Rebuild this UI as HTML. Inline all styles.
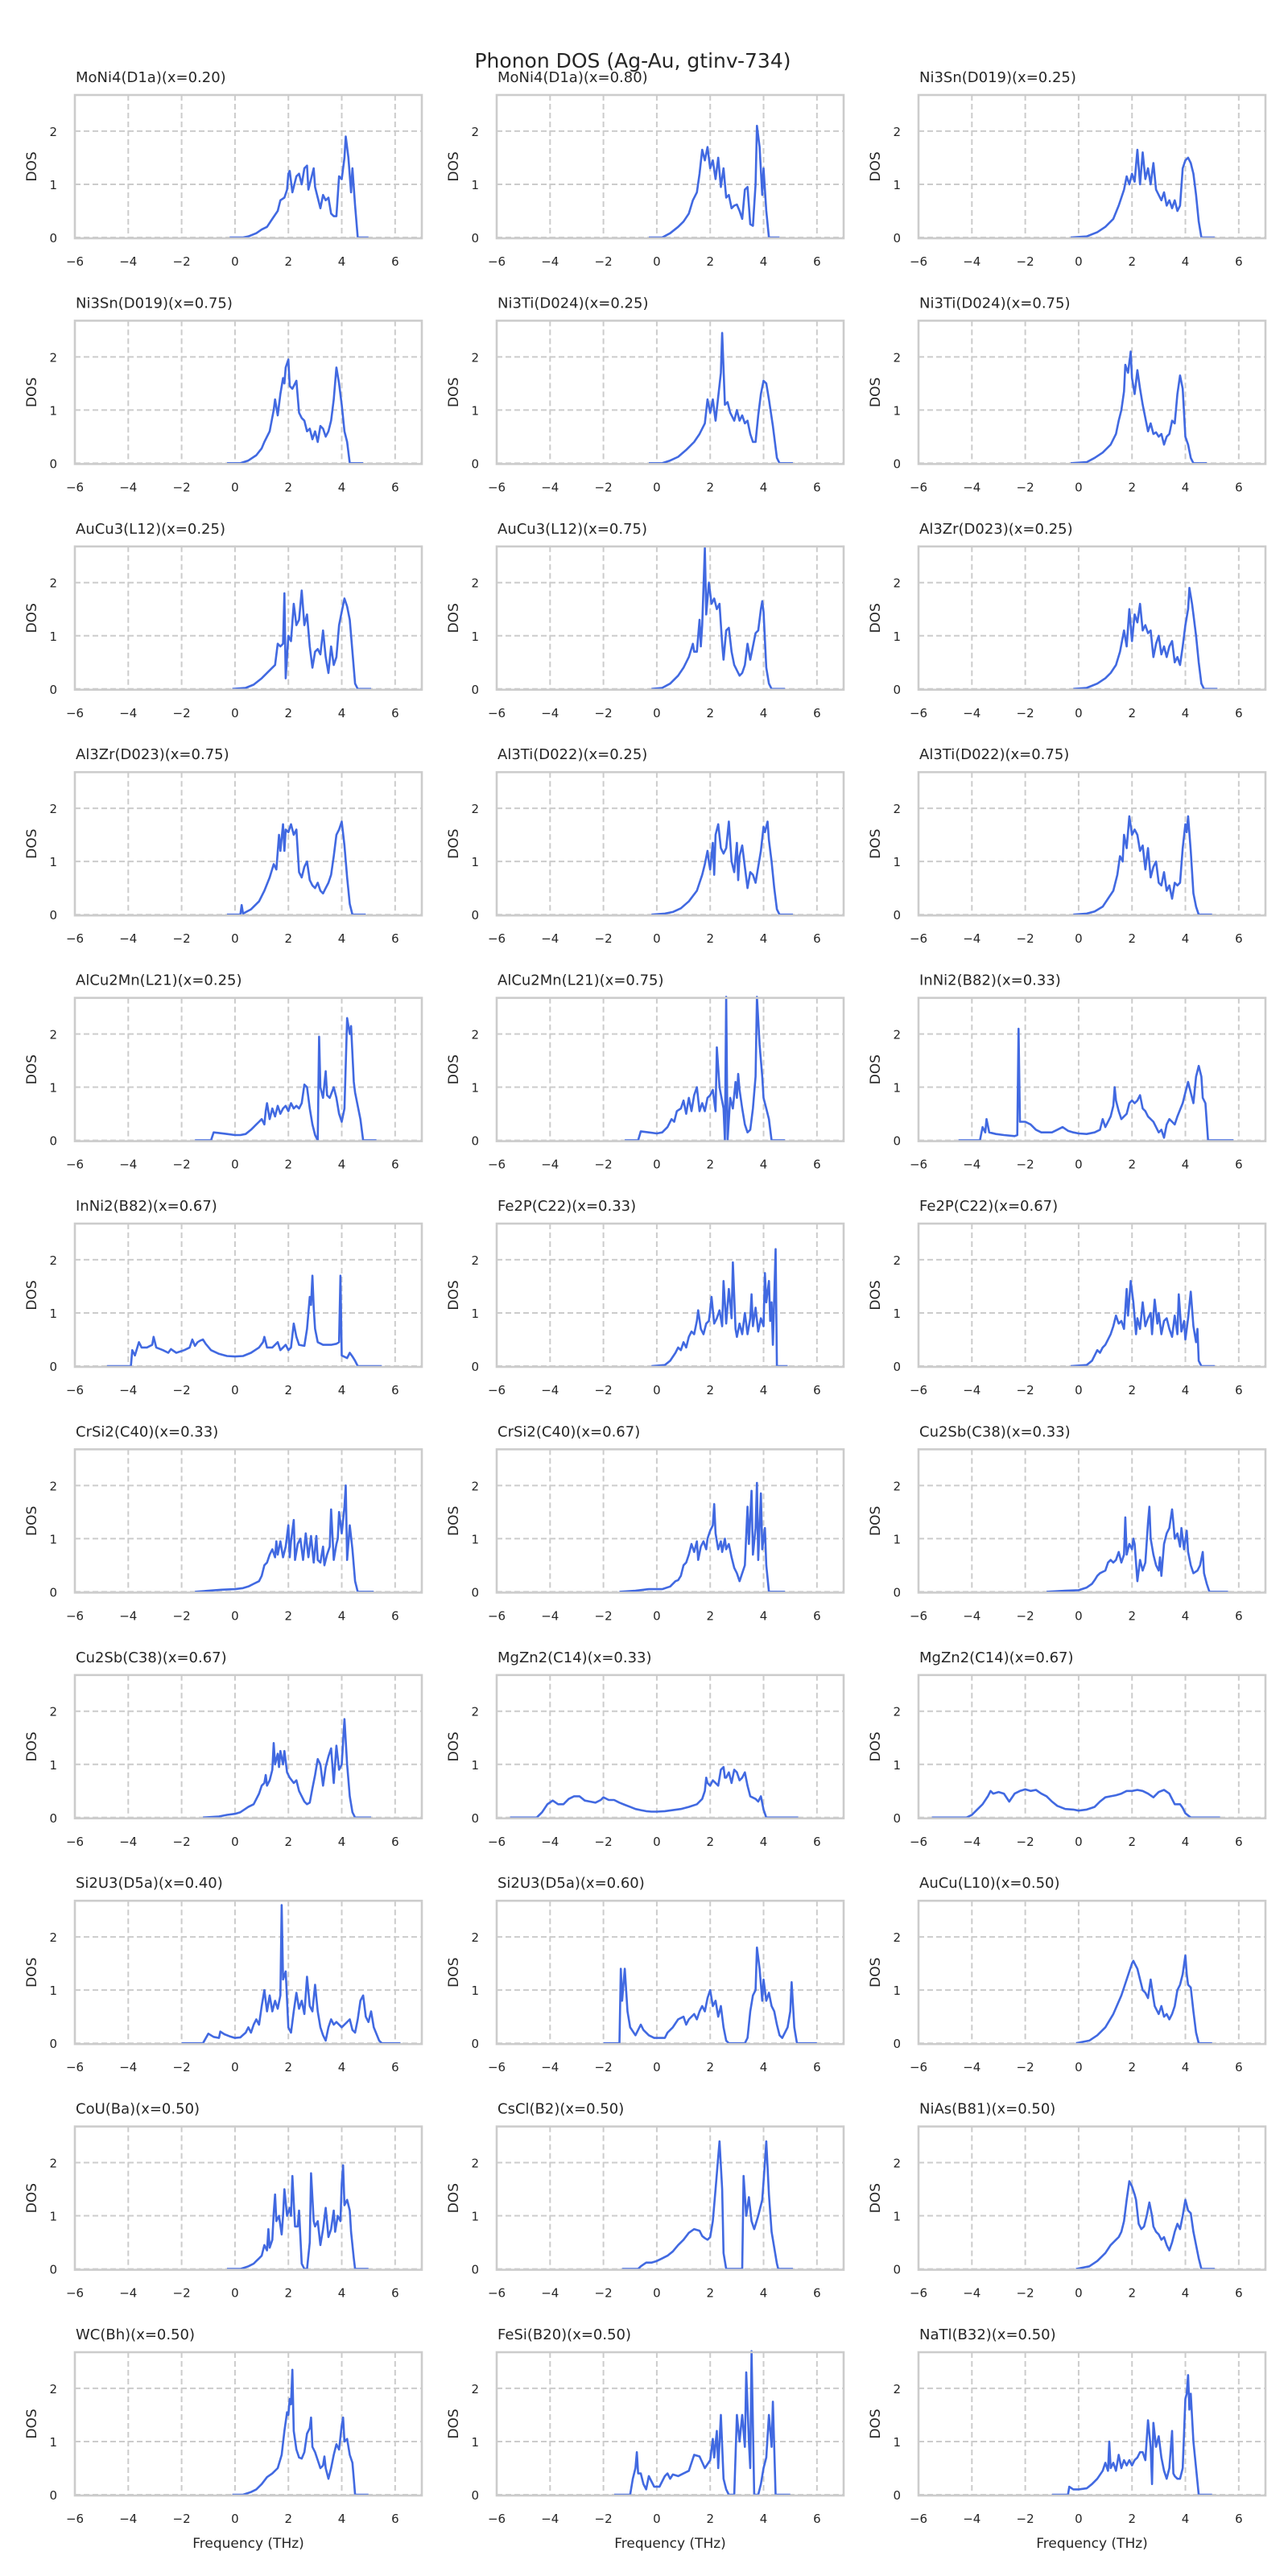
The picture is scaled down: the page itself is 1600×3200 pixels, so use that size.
<!DOCTYPE html>
<html><head><meta charset="utf-8">
<style>
html,body{margin:0;padding:0;background:#fff;}
svg{display:block;font-family:"DejaVu Sans","Liberation Sans",sans-serif;}
</style></head>
<body>
<svg id="fig" width="1600" height="3200" viewBox="0 0 1600 3200" xmlns="http://www.w3.org/2000/svg">
<text x="786" y="84" text-anchor="middle" font-size="25" fill="#262626">Phonon DOS (Ag-Au, gtinv-734)</text>
</svg>
<script>
const titles = ["MoNi4(D1a)(x=0.20)","MoNi4(D1a)(x=0.80)","Ni3Sn(D019)(x=0.25)","Ni3Sn(D019)(x=0.75)","Ni3Ti(D024)(x=0.25)","Ni3Ti(D024)(x=0.75)","AuCu3(L12)(x=0.25)","AuCu3(L12)(x=0.75)","Al3Zr(D023)(x=0.25)","Al3Zr(D023)(x=0.75)","Al3Ti(D022)(x=0.25)","Al3Ti(D022)(x=0.75)","AlCu2Mn(L21)(x=0.25)","AlCu2Mn(L21)(x=0.75)","InNi2(B82)(x=0.33)","InNi2(B82)(x=0.67)","Fe2P(C22)(x=0.33)","Fe2P(C22)(x=0.67)","CrSi2(C40)(x=0.33)","CrSi2(C40)(x=0.67)","Cu2Sb(C38)(x=0.33)","Cu2Sb(C38)(x=0.67)","MgZn2(C14)(x=0.33)","MgZn2(C14)(x=0.67)","Si2U3(D5a)(x=0.40)","Si2U3(D5a)(x=0.60)","AuCu(L10)(x=0.50)","CoU(Ba)(x=0.50)","CsCl(B2)(x=0.50)","NiAs(B81)(x=0.50)","WC(Bh)(x=0.50)","FeSi(B20)(x=0.50)","NaTl(B32)(x=0.50)"];
const xTicks = [-6,-4,-2,0,2,4,6];
const xTickLabels = ["\u22126","\u22124","\u22122","0","2","4","6"];
const yTicks = [0,1,2];
const yTickLabels = ["0","1","2"];

const P1=[[-0.2,0],[0.3,0],[0.5,0.02],[0.8,0.08],[1.0,0.15],[1.2,0.2],[1.4,0.35],[1.6,0.5],[1.7,0.7],[1.85,0.75],[1.95,0.9],[2.0,1.2],[2.05,1.25],[2.15,0.85],[2.3,1.15],[2.4,1.2],[2.5,1.0],[2.6,1.3],[2.7,1.35],[2.75,0.9],[2.85,1.1],[2.95,1.3],[3.0,0.95],[3.1,0.75],[3.2,0.55],[3.3,0.8],[3.4,0.7],[3.5,0.75],[3.6,0.45],[3.7,0.4],[3.8,0.4],[3.9,1.15],[4.0,1.1],[4.1,1.5],[4.15,1.9],[4.25,1.5],[4.35,0.85],[4.4,1.3],[4.5,0.6],[4.6,0],[5.0,0]];
const P2=[[-0.3,0],[0.2,0],[0.5,0.08],[0.8,0.2],[1.0,0.3],[1.2,0.45],[1.35,0.7],[1.5,0.85],[1.6,1.2],[1.7,1.65],[1.8,1.45],[1.9,1.7],[2.0,1.3],[2.1,1.45],[2.2,1.1],[2.3,1.5],[2.4,0.95],[2.5,1.3],[2.6,0.75],[2.7,0.8],[2.8,0.55],[2.9,0.6],[3.0,0.62],[3.1,0.5],[3.2,0.35],[3.3,0.9],[3.4,0.95],[3.5,0.25],[3.6,0.22],[3.7,1.0],[3.75,2.1],[3.85,1.7],[3.95,0.8],[4.0,1.3],[4.1,0.5],[4.2,0],[4.6,0]];
const P3=[[-0.3,0],[0.3,0.02],[0.7,0.1],[1.0,0.2],[1.3,0.35],[1.5,0.6],[1.7,0.9],[1.8,1.15],[1.9,1.0],[2.0,1.2],[2.1,1.05],[2.2,1.65],[2.3,1.0],[2.4,1.6],[2.5,1.1],[2.6,1.3],[2.7,1.0],[2.8,1.4],[2.9,0.9],[3.0,0.8],[3.1,0.7],[3.2,0.85],[3.3,0.6],[3.4,0.7],[3.5,0.55],[3.6,0.7],[3.7,0.5],[3.8,0.6],[3.9,1.3],[4.0,1.45],[4.1,1.5],[4.2,1.4],[4.3,1.2],[4.4,0.8],[4.5,0.3],[4.6,0],[5.1,0]];
const P4=[[-0.3,0],[0.2,0],[0.5,0.05],[0.8,0.15],[1.0,0.28],[1.1,0.4],[1.3,0.6],[1.45,1.0],[1.5,1.2],[1.6,0.9],[1.7,1.3],[1.8,1.6],[1.85,1.5],[1.9,1.8],[2.0,1.95],[2.05,1.45],[2.15,1.4],[2.3,1.55],[2.4,0.95],[2.5,0.85],[2.6,0.8],[2.7,0.6],[2.8,0.65],[2.9,0.45],[3.0,0.6],[3.1,0.4],[3.2,0.7],[3.3,0.65],[3.4,0.5],[3.5,0.6],[3.6,0.8],[3.7,1.2],[3.8,1.8],[3.9,1.5],[4.0,1.1],[4.1,0.6],[4.2,0.4],[4.3,0],[4.8,0]];
const P5=[[-0.3,0],[0.2,0],[0.5,0.05],[0.8,0.12],[1.1,0.25],[1.4,0.4],[1.6,0.55],[1.8,0.75],[1.9,1.2],[2.0,0.95],[2.1,1.2],[2.2,0.8],[2.3,1.25],[2.4,1.7],[2.45,2.45],[2.55,1.1],[2.65,1.15],[2.75,0.95],[2.9,0.8],[3.0,1.0],[3.1,0.8],[3.2,0.9],[3.3,0.75],[3.4,0.8],[3.5,0.55],[3.6,0.4],[3.7,0.4],[3.8,0.9],[3.9,1.3],[4.0,1.55],[4.1,1.5],[4.2,1.2],[4.35,0.7],[4.5,0.1],[4.6,0],[5.1,0]];
const P6=[[-0.3,0],[0.3,0.02],[0.6,0.1],[0.9,0.2],[1.2,0.35],[1.4,0.55],[1.5,0.8],[1.6,1.0],[1.7,1.35],[1.75,1.85],[1.85,1.7],[1.95,2.1],[2.0,1.6],[2.1,1.3],[2.2,1.75],[2.3,1.4],[2.4,1.1],[2.5,0.85],[2.6,0.6],[2.7,0.75],[2.8,0.55],[2.9,0.58],[3.0,0.5],[3.1,0.55],[3.2,0.35],[3.3,0.5],[3.4,0.55],[3.5,0.8],[3.6,0.75],[3.7,1.3],[3.8,1.65],[3.9,1.4],[4.0,0.5],[4.1,0.35],[4.2,0.1],[4.3,0],[4.8,0]];
const P7=[[-0.1,0],[0.4,0.02],[0.7,0.08],[1.0,0.2],[1.3,0.35],[1.5,0.45],[1.6,0.85],[1.7,0.8],[1.8,0.85],[1.85,1.8],[1.9,0.2],[2.0,1.0],[2.1,0.9],[2.2,1.6],[2.3,1.2],[2.4,1.3],[2.5,1.85],[2.6,1.2],[2.7,1.4],[2.8,0.8],[2.9,0.4],[3.0,0.7],[3.1,0.75],[3.2,0.65],[3.3,1.1],[3.4,0.6],[3.5,0.3],[3.6,0.8],[3.7,0.45],[3.8,0.6],[3.9,1.2],[4.0,1.45],[4.1,1.7],[4.2,1.55],[4.3,1.3],[4.4,0.7],[4.5,0.1],[4.6,0],[5.1,0]];
const P8=[[-0.2,0],[0.2,0.02],[0.5,0.1],[0.8,0.25],[1.0,0.4],[1.2,0.6],[1.35,0.85],[1.4,0.7],[1.5,0.7],[1.6,1.3],[1.65,0.8],[1.7,1.2],[1.8,2.65],[1.85,1.4],[1.95,2.0],[2.05,1.6],[2.15,1.7],[2.25,1.5],[2.35,1.6],[2.45,0.85],[2.5,0.55],[2.6,1.1],[2.7,1.15],[2.8,0.7],[2.9,0.45],[3.0,0.35],[3.1,0.25],[3.2,0.3],[3.3,0.45],[3.4,0.85],[3.5,0.55],[3.6,0.8],[3.7,1.05],[3.8,1.1],[3.9,1.5],[3.95,1.65],[4.0,1.45],[4.1,0.4],[4.2,0.1],[4.3,0],[4.8,0]];
const P9=[[-0.2,0],[0.3,0.02],[0.7,0.1],[1.0,0.2],[1.2,0.3],[1.4,0.45],[1.55,0.7],[1.7,1.1],[1.8,0.8],[1.9,1.5],[2.0,0.9],[2.1,1.4],[2.2,1.25],[2.3,1.6],[2.4,1.1],[2.5,1.2],[2.6,1.05],[2.7,1.1],[2.8,0.6],[2.9,0.85],[3.0,1.0],[3.1,0.65],[3.2,0.8],[3.3,0.6],[3.4,0.8],[3.5,0.9],[3.6,0.5],[3.7,0.6],[3.8,0.45],[3.9,0.8],[4.0,1.2],[4.1,1.5],[4.15,1.9],[4.25,1.6],[4.3,1.4],[4.4,1.0],[4.5,0.5],[4.6,0.1],[4.7,0],[5.2,0]];
const P10=[[-0.3,0],[0.2,0],[0.25,0.18],[0.3,0.02],[0.6,0.1],[0.9,0.25],[1.1,0.45],[1.3,0.7],[1.45,0.95],[1.55,0.85],[1.65,1.5],[1.7,1.2],[1.8,1.7],[1.85,1.2],[1.9,1.6],[2.0,1.55],[2.1,1.7],[2.2,1.5],[2.3,1.6],[2.4,0.8],[2.5,0.7],[2.6,0.9],[2.7,1.0],[2.8,0.65],[2.9,0.55],[3.0,0.5],[3.1,0.6],[3.2,0.45],[3.3,0.4],[3.4,0.5],[3.5,0.6],[3.6,0.75],[3.7,1.1],[3.8,1.5],[3.9,1.6],[4.0,1.75],[4.1,1.3],[4.2,0.7],[4.3,0.2],[4.4,0],[4.9,0]];
const P11=[[-0.2,0],[0.3,0.02],[0.6,0.05],[0.9,0.12],[1.2,0.25],[1.5,0.45],[1.7,0.75],[1.8,0.95],[1.9,1.2],[1.95,1.0],[2.0,0.85],[2.1,1.35],[2.15,0.75],[2.2,1.5],[2.3,1.7],[2.4,1.25],[2.5,1.15],[2.6,1.25],[2.7,1.75],[2.8,1.0],[2.9,0.8],[3.0,1.35],[3.05,0.65],[3.1,1.1],[3.2,1.3],[3.3,0.9],[3.4,0.5],[3.5,0.8],[3.6,0.75],[3.7,0.6],[3.8,0.9],[3.9,1.2],[4.0,1.65],[4.05,1.55],[4.15,1.75],[4.2,1.4],[4.3,1.0],[4.4,0.5],[4.5,0.1],[4.6,0],[5.1,0]];
const P12=[[-0.2,0],[0.3,0.02],[0.6,0.06],[0.9,0.15],[1.1,0.3],[1.3,0.45],[1.45,0.75],[1.55,1.1],[1.65,1.0],[1.7,1.5],[1.8,1.25],[1.9,1.85],[2.0,1.5],[2.1,1.6],[2.2,1.5],[2.3,1.2],[2.4,1.3],[2.5,0.85],[2.6,1.25],[2.7,0.7],[2.8,0.9],[2.9,1.0],[3.0,0.6],[3.1,0.55],[3.2,0.8],[3.3,0.45],[3.4,0.55],[3.5,0.3],[3.6,0.6],[3.7,0.55],[3.8,0.6],[3.9,1.25],[4.0,1.7],[4.05,1.55],[4.1,1.85],[4.2,1.2],[4.3,0.4],[4.4,0.15],[4.5,0],[5.0,0]];
const P13=[[-1.5,0],[-0.9,0],[-0.8,0.15],[-0.6,0.14],[-0.3,0.12],[0,0.1],[0.2,0.1],[0.4,0.12],[0.6,0.2],[0.8,0.3],[0.9,0.35],[1.0,0.4],[1.1,0.3],[1.15,0.55],[1.2,0.7],[1.3,0.4],[1.4,0.6],[1.5,0.45],[1.6,0.65],[1.7,0.5],[1.8,0.6],[1.9,0.65],[2.0,0.55],[2.1,0.7],[2.2,0.6],[2.3,0.65],[2.4,0.6],[2.5,0.7],[2.6,1.05],[2.7,1.0],[2.8,0.6],[2.9,0.3],[3.0,0.1],[3.1,0],[3.15,1.95],[3.2,1.0],[3.3,0.8],[3.4,1.3],[3.45,0.85],[3.55,0.8],[3.7,1.0],[3.8,0.8],[3.9,0.5],[4.0,0.35],[4.1,0.6],[4.2,2.3],[4.3,2.0],[4.35,2.15],[4.45,1.1],[4.5,0.9],[4.7,0.4],[4.8,0],[5.3,0]];
const P14=[[-1.2,0],[-0.7,0],[-0.6,0.17],[-0.3,0.15],[0,0.13],[0.2,0.15],[0.4,0.25],[0.55,0.4],[0.65,0.35],[0.75,0.55],[0.9,0.6],[1.0,0.75],[1.1,0.5],[1.2,0.8],[1.3,0.55],[1.4,0.85],[1.5,1.0],[1.6,0.55],[1.7,0.7],[1.8,0.55],[1.9,0.8],[2.0,0.85],[2.1,0.95],[2.2,0.55],[2.25,1.75],[2.35,1.0],[2.5,0.6],[2.55,0],[2.6,2.7],[2.65,0],[2.75,0.8],[2.85,0.6],[2.95,1.1],[3.0,0.8],[3.05,1.25],[3.1,0.95],[3.2,0.6],[3.3,0.3],[3.4,0.15],[3.5,0.2],[3.6,0.6],[3.7,1.2],[3.75,2.7],[3.85,1.8],[3.95,1.2],[4.0,0.8],[4.1,0.6],[4.2,0.4],[4.3,0],[4.8,0]];
const P15=[[-4.5,0],[-3.7,0],[-3.6,0.25],[-3.5,0.15],[-3.45,0.4],[-3.35,0.15],[-3.1,0.12],[-2.8,0.1],[-2.4,0.08],[-2.3,0.1],[-2.25,2.1],[-2.2,0.35],[-2.0,0.35],[-1.8,0.3],[-1.6,0.2],[-1.4,0.15],[-1.0,0.15],[-0.8,0.2],[-0.6,0.25],[-0.4,0.18],[-0.2,0.15],[0,0.13],[0.3,0.12],[0.6,0.15],[0.8,0.2],[0.9,0.4],[1.0,0.25],[1.2,0.45],[1.3,0.65],[1.35,1.0],[1.4,0.75],[1.5,0.55],[1.6,0.4],[1.8,0.5],[1.9,0.7],[2.0,0.75],[2.1,0.7],[2.2,0.75],[2.3,0.85],[2.4,0.6],[2.5,0.55],[2.6,0.45],[2.8,0.35],[3.0,0.15],[3.1,0.2],[3.2,0.05],[3.3,0.3],[3.4,0.4],[3.5,0.35],[3.6,0.3],[3.7,0.45],[3.9,0.7],[4.0,0.9],[4.1,1.1],[4.2,0.9],[4.3,0.7],[4.4,1.2],[4.5,1.4],[4.6,1.2],[4.65,0.8],[4.75,0.7],[4.85,0],[5.8,0]];
const P16=[[-4.8,0],[-3.9,0],[-3.85,0.3],[-3.75,0.2],[-3.6,0.45],[-3.5,0.35],[-3.3,0.35],[-3.1,0.4],[-3.05,0.55],[-2.95,0.35],[-2.7,0.3],[-2.5,0.25],[-2.4,0.32],[-2.2,0.25],[-1.9,0.3],[-1.7,0.35],[-1.6,0.5],[-1.5,0.38],[-1.4,0.45],[-1.3,0.48],[-1.2,0.5],[-1.1,0.42],[-0.9,0.3],[-0.6,0.23],[-0.3,0.19],[0,0.18],[0.3,0.19],[0.6,0.25],[0.9,0.35],[1.05,0.45],[1.1,0.55],[1.2,0.35],[1.4,0.35],[1.6,0.45],[1.7,0.3],[1.8,0.35],[1.9,0.4],[2.0,0.3],[2.1,0.35],[2.2,0.8],[2.3,0.55],[2.4,0.4],[2.6,0.38],[2.7,0.7],[2.8,1.3],[2.85,1.15],[2.9,1.7],[2.95,1.1],[3.0,0.7],[3.1,0.45],[3.3,0.4],[3.6,0.4],[3.8,0.42],[3.9,0.45],[3.95,1.7],[4.0,0.2],[4.2,0.15],[4.3,0.25],[4.4,0.18],[4.5,0.1],[4.6,0],[5.5,0]];
const P17=[[-0.2,0],[0.3,0.02],[0.5,0.1],[0.7,0.25],[0.8,0.35],[0.9,0.3],[1.0,0.45],[1.1,0.35],[1.2,0.55],[1.3,0.65],[1.4,0.6],[1.5,0.85],[1.55,1.05],[1.65,0.7],[1.75,0.6],[1.85,0.8],[1.95,0.85],[2.0,1.05],[2.05,1.3],[2.15,0.8],[2.25,0.9],[2.35,1.05],[2.45,0.75],[2.5,1.6],[2.6,0.8],[2.7,1.45],[2.8,0.9],[2.85,1.95],[2.95,0.7],[3.0,0.55],[3.1,0.8],[3.2,0.6],[3.3,1.0],[3.4,0.6],[3.5,0.9],[3.55,1.35],[3.6,0.75],[3.7,1.1],[3.8,0.65],[3.9,0.9],[4.0,0.75],[4.05,1.75],[4.1,1.2],[4.2,1.6],[4.25,0.85],[4.3,1.2],[4.35,0.4],[4.45,2.2],[4.5,0],[4.9,0]];
const P18=[[-0.3,0],[0.3,0.02],[0.5,0.1],[0.7,0.3],[0.8,0.25],[0.9,0.35],[1.0,0.4],[1.2,0.6],[1.3,0.75],[1.4,0.95],[1.5,0.8],[1.6,0.85],[1.7,0.7],[1.8,1.45],[1.85,0.95],[1.95,1.6],[2.05,1.2],[2.15,0.6],[2.2,0.9],[2.3,0.7],[2.4,1.2],[2.5,0.75],[2.6,0.9],[2.7,1.0],[2.75,0.6],[2.85,1.25],[2.95,0.8],[3.0,1.0],[3.1,0.6],[3.2,0.85],[3.3,0.9],[3.4,0.7],[3.5,0.55],[3.6,0.95],[3.7,0.6],[3.75,1.35],[3.85,0.65],[3.95,0.85],[4.0,0.5],[4.1,0.9],[4.2,1.4],[4.3,0.75],[4.4,0.45],[4.45,0.7],[4.5,0.1],[4.6,0],[5.1,0]];
const P19=[[-1.5,0],[-1.0,0.02],[-0.5,0.04],[0,0.05],[0.3,0.07],[0.5,0.1],[0.7,0.15],[0.9,0.2],[1.0,0.3],[1.1,0.5],[1.2,0.55],[1.3,0.7],[1.4,0.8],[1.5,0.65],[1.55,0.95],[1.6,0.7],[1.7,0.95],[1.8,0.65],[1.9,0.85],[2.0,1.25],[2.05,0.65],[2.1,0.95],[2.2,1.35],[2.25,0.6],[2.35,0.9],[2.45,1.0],[2.55,0.6],[2.65,1.1],[2.75,0.65],[2.85,1.05],[2.95,0.55],[3.05,1.05],[3.1,0.6],[3.2,0.55],[3.3,0.85],[3.35,0.5],[3.45,0.7],[3.55,0.85],[3.6,1.55],[3.7,0.6],[3.8,0.9],[3.85,1.0],[3.9,1.5],[4.0,1.1],[4.1,1.6],[4.15,2.0],[4.2,0.6],[4.3,1.25],[4.4,0.8],[4.5,0.2],[4.6,0],[5.2,0]];
const P20=[[-1.4,0],[-0.8,0.02],[-0.3,0.05],[0.2,0.05],[0.5,0.1],[0.7,0.2],[0.8,0.22],[0.9,0.3],[1.0,0.5],[1.1,0.55],[1.2,0.7],[1.3,0.9],[1.4,0.75],[1.5,0.95],[1.55,0.6],[1.65,0.85],[1.75,0.95],[1.85,0.8],[1.9,1.0],[2.0,1.15],[2.1,1.25],[2.15,1.65],[2.2,1.1],[2.3,0.8],[2.4,0.95],[2.45,0.75],[2.55,1.0],[2.6,0.8],[2.7,0.9],[2.8,0.65],[2.9,0.45],[3.0,0.35],[3.1,0.2],[3.2,0.35],[3.3,0.5],[3.4,1.6],[3.45,0.9],[3.55,1.9],[3.6,0.7],[3.7,1.2],[3.75,2.05],[3.8,0.6],[3.9,1.85],[3.95,0.8],[4.05,1.2],[4.1,0.5],[4.2,0],[4.8,0]];
const P21=[[-1.2,0],[-0.5,0.02],[0,0.03],[0.3,0.08],[0.5,0.15],[0.6,0.22],[0.7,0.3],[0.8,0.35],[1.0,0.4],[1.1,0.55],[1.2,0.6],[1.3,0.55],[1.4,0.6],[1.5,0.75],[1.6,0.55],[1.7,0.7],[1.75,1.4],[1.8,0.7],[1.9,0.9],[2.0,0.8],[2.05,1.0],[2.1,0.9],[2.2,0.2],[2.3,0.6],[2.4,0.4],[2.5,0.55],[2.6,1.3],[2.65,1.6],[2.7,1.0],[2.8,0.7],[2.9,0.5],[3.0,0.4],[3.05,0.65],[3.1,0.3],[3.2,0.9],[3.3,1.1],[3.4,1.2],[3.5,1.55],[3.55,1.3],[3.6,1.0],[3.7,1.1],[3.8,0.85],[3.85,1.2],[3.95,0.8],[4.05,1.15],[4.1,0.75],[4.2,0.5],[4.3,0.35],[4.45,0.4],[4.55,0.5],[4.65,0.75],[4.7,0.35],[4.8,0.15],[4.9,0],[5.6,0]];
const P22=[[-1.2,0],[-0.6,0.02],[-0.3,0.05],[0,0.07],[0.2,0.1],[0.5,0.2],[0.7,0.25],[0.9,0.45],[1.0,0.6],[1.1,0.65],[1.15,0.8],[1.2,0.6],[1.3,0.7],[1.4,0.9],[1.45,1.4],[1.5,1.0],[1.6,1.2],[1.65,0.95],[1.7,1.25],[1.8,1.0],[1.85,1.25],[1.95,0.85],[2.05,0.75],[2.2,0.65],[2.3,0.7],[2.4,0.5],[2.6,0.3],[2.7,0.25],[2.8,0.28],[2.9,0.55],[3.0,0.8],[3.1,1.1],[3.2,1.0],[3.3,0.6],[3.4,0.95],[3.5,1.15],[3.6,1.3],[3.7,0.65],[3.8,1.35],[3.9,0.9],[4.0,1.0],[4.1,1.85],[4.2,1.0],[4.3,0.4],[4.4,0.1],[4.5,0],[5.1,0]];
const P23=[[-5.5,0],[-4.5,0],[-4.3,0.1],[-4.1,0.25],[-3.9,0.32],[-3.7,0.25],[-3.5,0.25],[-3.3,0.35],[-3.1,0.4],[-2.9,0.4],[-2.7,0.32],[-2.5,0.3],[-2.3,0.28],[-2.1,0.33],[-2.0,0.38],[-1.8,0.33],[-1.6,0.33],[-1.4,0.28],[-1.2,0.24],[-1.0,0.2],[-0.8,0.16],[-0.6,0.14],[-0.4,0.12],[-0.2,0.11],[0,0.11],[0.3,0.12],[0.6,0.14],[0.9,0.16],[1.2,0.2],[1.5,0.25],[1.7,0.35],[1.8,0.5],[1.85,0.75],[1.9,0.65],[2.0,0.6],[2.1,0.7],[2.2,0.65],[2.3,0.6],[2.4,0.9],[2.5,0.95],[2.55,0.75],[2.6,0.75],[2.7,0.85],[2.8,0.65],[2.9,0.9],[3.0,0.85],[3.1,0.7],[3.2,0.75],[3.3,0.85],[3.4,0.6],[3.5,0.4],[3.7,0.35],[3.8,0.3],[3.9,0.4],[4.0,0.15],[4.1,0],[5.3,0]];
const P24=[[-5.5,0],[-4.2,0],[-4.0,0.05],[-3.8,0.15],[-3.6,0.25],[-3.4,0.4],[-3.3,0.5],[-3.2,0.45],[-3.0,0.48],[-2.8,0.45],[-2.6,0.3],[-2.4,0.45],[-2.2,0.5],[-2.0,0.53],[-1.8,0.5],[-1.6,0.52],[-1.4,0.45],[-1.2,0.4],[-1.0,0.3],[-0.8,0.22],[-0.5,0.16],[-0.2,0.15],[0,0.13],[0.3,0.15],[0.6,0.2],[0.8,0.3],[1.0,0.38],[1.2,0.4],[1.4,0.42],[1.6,0.45],[1.8,0.5],[2.0,0.5],[2.2,0.52],[2.4,0.5],[2.6,0.45],[2.8,0.38],[3.0,0.48],[3.2,0.52],[3.4,0.45],[3.6,0.25],[3.8,0.25],[3.9,0.18],[4.0,0.08],[4.2,0],[5.3,0]];
const P25=[[-2.0,0],[-1.2,0],[-1.0,0.18],[-0.8,0.12],[-0.6,0.1],[-0.55,0.22],[-0.4,0.17],[-0.2,0.13],[0,0.1],[0.2,0.11],[0.4,0.2],[0.5,0.3],[0.6,0.2],[0.7,0.35],[0.8,0.45],[0.9,0.35],[1.0,0.7],[1.1,1.0],[1.2,0.6],[1.3,0.9],[1.4,0.6],[1.5,0.8],[1.6,0.65],[1.7,0.9],[1.75,2.6],[1.8,1.2],[1.9,1.35],[2.0,0.3],[2.1,0.2],[2.2,0.6],[2.3,0.95],[2.4,0.65],[2.5,0.8],[2.6,0.55],[2.7,1.25],[2.8,0.7],[2.9,0.6],[3.0,1.1],[3.1,0.6],[3.2,0.3],[3.3,0.15],[3.4,0.05],[3.5,0.3],[3.6,0.45],[3.7,0.35],[3.8,0.4],[3.9,0.35],[4.0,0.3],[4.1,0.35],[4.2,0.4],[4.3,0.45],[4.4,0.25],[4.5,0.2],[4.6,0.45],[4.7,0.8],[4.8,0.9],[4.9,0.5],[5.0,0.4],[5.1,0.6],[5.2,0.3],[5.4,0.05],[5.5,0],[6.2,0]];
const P26=[[-2.0,0],[-1.4,0],[-1.35,1.4],[-1.3,0.8],[-1.2,1.4],[-1.1,0.6],[-1.0,0.3],[-0.8,0.15],[-0.7,0.25],[-0.6,0.35],[-0.5,0.25],[-0.3,0.15],[-0.1,0.1],[0.1,0.1],[0.3,0.1],[0.4,0.2],[0.6,0.3],[0.8,0.45],[1.0,0.5],[1.1,0.35],[1.2,0.45],[1.4,0.55],[1.5,0.45],[1.6,0.6],[1.7,0.7],[1.8,0.6],[1.9,0.85],[2.0,1.0],[2.1,0.7],[2.2,0.8],[2.3,0.5],[2.4,0.7],[2.5,0.3],[2.6,0.05],[2.7,0],[3.3,0],[3.4,0.1],[3.5,0.6],[3.6,0.9],[3.7,1.0],[3.75,1.8],[3.85,1.4],[3.95,0.8],[4.0,1.2],[4.1,0.8],[4.2,0.95],[4.3,0.7],[4.4,0.6],[4.5,0.35],[4.6,0.15],[4.7,0.1],[4.9,0.3],[5.0,0.6],[5.05,1.15],[5.15,0.3],[5.25,0],[6.0,0]];
const P27=[[-0.1,0],[0.4,0.05],[0.7,0.15],[1.0,0.3],[1.3,0.55],[1.6,0.9],[1.8,1.2],[1.9,1.35],[2.0,1.5],[2.05,1.55],[2.1,1.5],[2.2,1.4],[2.3,1.2],[2.4,1.0],[2.5,0.95],[2.6,0.85],[2.7,1.2],[2.8,0.85],[2.85,0.7],[2.95,0.6],[3.0,0.55],[3.1,0.7],[3.2,0.5],[3.3,0.55],[3.4,0.45],[3.5,0.55],[3.6,0.7],[3.7,1.0],[3.8,1.1],[3.9,1.3],[4.0,1.65],[4.05,1.3],[4.1,1.1],[4.2,1.05],[4.3,0.6],[4.4,0.2],[4.5,0],[5.0,0]];
const P28=[[-0.3,0],[0.2,0],[0.5,0.05],[0.7,0.1],[0.8,0.15],[0.9,0.2],[1.0,0.25],[1.1,0.45],[1.2,0.35],[1.25,0.75],[1.3,0.4],[1.4,0.55],[1.45,1.05],[1.5,1.4],[1.55,0.9],[1.65,1.0],[1.75,0.65],[1.8,1.0],[1.85,1.5],[1.95,1.0],[2.05,1.15],[2.1,1.0],[2.15,1.75],[2.25,0.8],[2.35,0.8],[2.4,1.1],[2.5,0.1],[2.6,0],[2.7,0],[2.8,0.5],[2.85,1.8],[2.95,0.9],[3.0,0.8],[3.1,0.9],[3.2,0.45],[3.3,0.75],[3.4,1.15],[3.5,0.6],[3.6,0.75],[3.7,1.1],[3.75,0.7],[3.85,1.0],[3.95,0.9],[4.0,1.6],[4.05,1.95],[4.1,1.2],[4.2,1.3],[4.3,1.1],[4.35,0.7],[4.45,0.2],[4.5,0],[5.0,0]];
const P29=[[-1.3,0],[-0.7,0],[-0.6,0.05],[-0.4,0.12],[-0.2,0.12],[0,0.15],[0.2,0.2],[0.4,0.25],[0.6,0.33],[0.8,0.45],[1.0,0.55],[1.2,0.68],[1.4,0.75],[1.6,0.72],[1.7,0.62],[1.8,0.58],[1.9,0.55],[2.0,0.6],[2.1,0.9],[2.2,1.5],[2.35,2.4],[2.45,1.5],[2.5,0.3],[2.6,0],[3.2,0],[3.25,1.75],[3.35,1.0],[3.45,1.35],[3.55,0.9],[3.65,0.75],[3.8,1.0],[3.95,1.3],[4.05,2.0],[4.1,2.4],[4.2,1.4],[4.3,0.7],[4.4,0.4],[4.5,0.1],[4.55,0],[5.1,0]];
const P30=[[-0.1,0],[0.4,0.05],[0.7,0.15],[1.0,0.3],[1.2,0.45],[1.4,0.55],[1.5,0.6],[1.6,0.7],[1.7,0.9],[1.8,1.3],[1.9,1.65],[2.0,1.55],[2.1,1.4],[2.15,1.3],[2.25,0.85],[2.35,0.75],[2.45,0.8],[2.55,1.0],[2.65,1.25],[2.75,1.0],[2.8,0.8],[2.9,0.7],[3.0,0.65],[3.1,0.55],[3.2,0.6],[3.3,0.45],[3.4,0.35],[3.5,0.5],[3.6,0.7],[3.7,0.85],[3.8,0.75],[3.9,1.0],[4.0,1.3],[4.1,1.1],[4.2,1.05],[4.3,0.7],[4.4,0.45],[4.5,0.2],[4.6,0],[5.1,0]];
const P31=[[-0.1,0],[0.3,0],[0.6,0.05],[0.8,0.1],[1.0,0.2],[1.2,0.33],[1.4,0.4],[1.6,0.5],[1.75,0.75],[1.85,1.2],[1.95,1.55],[2.0,1.5],[2.05,1.8],[2.1,1.7],[2.15,2.35],[2.2,1.2],[2.3,0.85],[2.4,0.7],[2.5,0.68],[2.6,0.8],[2.7,1.15],[2.8,1.25],[2.85,1.45],[2.9,0.9],[3.0,0.8],[3.1,0.65],[3.2,0.5],[3.3,0.55],[3.35,0.72],[3.4,0.5],[3.5,0.3],[3.6,0.5],[3.7,0.75],[3.8,0.95],[3.9,0.85],[4.0,1.3],[4.05,1.45],[4.1,1.0],[4.2,1.05],[4.3,0.75],[4.4,0.6],[4.45,0.3],[4.5,0],[5.0,0]];
const P32=[[-1.6,0],[-1.0,0],[-0.9,0.3],[-0.8,0.5],[-0.75,0.8],[-0.7,0.4],[-0.6,0.4],[-0.5,0.2],[-0.4,0.1],[-0.3,0.35],[-0.2,0.25],[-0.1,0.15],[0.1,0.15],[0.3,0.35],[0.4,0.4],[0.5,0.3],[0.6,0.38],[0.8,0.35],[1.0,0.4],[1.2,0.45],[1.4,0.75],[1.6,0.72],[1.8,0.5],[2.0,0.65],[2.1,1.05],[2.15,0.7],[2.25,1.2],[2.3,0.5],[2.4,1.5],[2.5,0.3],[2.6,0.1],[2.7,0],[2.9,0],[3.0,1.5],[3.1,1.0],[3.2,1.5],[3.3,0.9],[3.35,2.3],[3.45,1.0],[3.5,0.5],[3.55,2.7],[3.65,0],[3.8,0],[3.9,0.2],[4.0,0.5],[4.1,0.7],[4.2,1.5],[4.3,0.9],[4.35,1.75],[4.45,0],[5.0,0]];
const P33=[[-1.0,0],[-0.4,0],[-0.35,0.15],[-0.2,0.1],[0,0.1],[0.3,0.12],[0.5,0.2],[0.7,0.3],[0.9,0.45],[1.0,0.6],[1.1,0.45],[1.15,1.0],[1.2,0.5],[1.3,0.6],[1.4,0.45],[1.5,0.75],[1.6,0.5],[1.7,0.65],[1.8,0.55],[1.9,0.65],[2.0,0.55],[2.1,0.65],[2.2,0.7],[2.3,0.8],[2.4,0.8],[2.5,0.65],[2.6,1.4],[2.7,0.9],[2.75,0.2],[2.8,1.35],[2.9,0.9],[3.0,1.1],[3.1,0.7],[3.2,0.45],[3.3,0.3],[3.4,0.5],[3.5,1.2],[3.55,0.4],[3.6,0.35],[3.7,0.3],[3.8,0.3],[3.9,0.5],[4.0,1.8],[4.05,1.9],[4.1,2.25],[4.15,1.6],[4.2,1.9],[4.3,1.0],[4.4,0.5],[4.5,0],[5.0,0]];
const series = [P1,P2,P3,P4,P5,P6,P7,P8,P9,P10,P11,P12,P13,P14,P15,P16,P17,P18,P19,P20,P21,P22,P23,P24,P25,P26,P27,P28,P29,P30,P31,P32,P33];

const NS = "http://www.w3.org/2000/svg";
const svg = document.getElementById('fig');
const X0 = -6, X1 = 7, Y0 = -0.015, Y1 = 2.68;
const colLeft = [93, 617, 1141];
const PW = 431, PH = 178, TOP0 = 118, ROWSTEP = 280.4;

function mk(tag, attrs, parent) {
  const e = document.createElementNS(NS, tag);
  for (const k in attrs) e.setAttribute(k, attrs[k]);
  parent.appendChild(e);
  return e;
}

series.forEach((data, i) => {
  const r = Math.floor(i / 3), c = i % 3;
  const L = colLeft[c], T = TOP0 + r * ROWSTEP;
  const sx = v => L + (v - X0) / (X1 - X0) * PW;
  const sy = v => T + PH - (v - Y0) / (Y1 - Y0) * PH;
  const g = mk('g', {}, svg);
  
  

  xTicks.forEach(t => {
    if (t === X0) return;
    const ln = mk('line', {x1: sx(t), x2: sx(t), y1: T, y2: T + PH, stroke: '#cccccc', 'stroke-width': 2, 'stroke-dasharray': '7,4'}, g);
    
    
  });
  yTicks.forEach(t => {
    const ln = mk('line', {x1: L, x2: L + PW, y1: sy(t), y2: sy(t), stroke: '#cccccc', 'stroke-width': 2, 'stroke-dasharray': '7,4'}, g);
    
    
  });

  const d = data.map((p, k) => (k ? 'L' : 'M') + sx(p[0]).toFixed(1) + ',' + sy(p[1]).toFixed(1)).join(' ');
  const path = mk('path', {d: d, fill: 'none', stroke: '#4169e1', 'stroke-width': 2.6, 'stroke-linejoin': 'round'}, g);
  
  

  const fr = mk('rect', {x: L, y: T, width: PW, height: PH, fill: 'none', stroke: '#cccccc', 'stroke-width': 2.6}, g);
  
  

  xTicks.forEach((t, k) => {
    const tx = mk('text', {x: sx(t), y: T + PH + 34, 'text-anchor': 'middle', 'font-size': 15, fill: '#262626'}, g);
    tx.textContent = xTickLabels[k];
    
    
  });
  yTicks.forEach((t, k) => {
    const ty = mk('text', {x: L - 22, y: sy(t) + 6, 'text-anchor': 'end', 'font-size': 15, fill: '#262626'}, g);
    ty.textContent = yTickLabels[k];
    
    
  });

  const yl = mk('text', {x: 0, y: 0, transform: 'translate(' + (L - 48) + ',' + (T + PH / 2) + ') rotate(-90)', 'text-anchor': 'middle', 'font-size': 17, fill: '#262626'}, g);
  yl.textContent = 'DOS';
  
  

  const tt = mk('text', {x: L + 1, y: T - 16, 'font-size': 18, fill: '#262626'}, g);
  tt.textContent = titles[i];
  
  

  if (r === 10) {
    const xl = mk('text', {x: L + PW / 2, y: T + PH + 65, 'text-anchor': 'middle', 'font-size': 17, fill: '#262626'}, g);
    xl.textContent = 'Frequency (THz)';
    
    
  }
});
</script>
</body></html>
